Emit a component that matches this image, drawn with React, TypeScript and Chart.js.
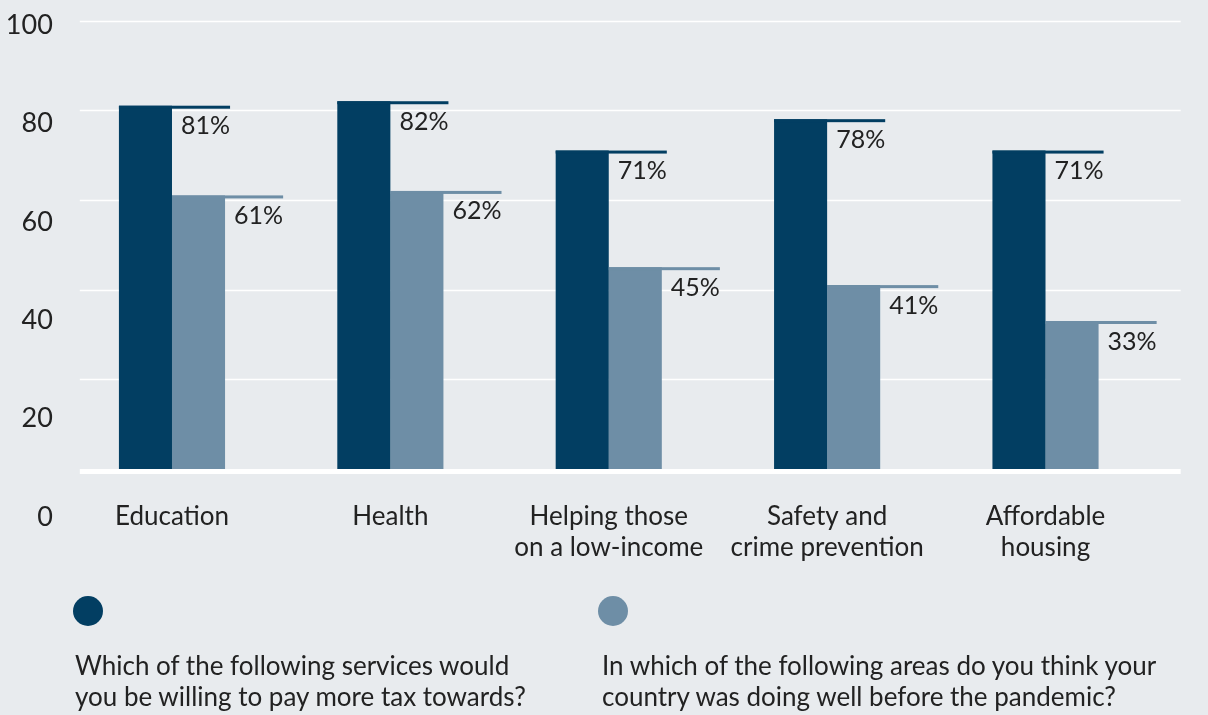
import React, { useEffect, useRef } from "react";
import { Chart, registerables } from "chart.js";

Chart.register(...registerables);

// ---- data ----
const categories: string[][] = [
  ["Education"],
  ["Health"],
  ["Helping those", "on a low-income"],
  ["Safety and", "crime prevention"],
  ["Affordable", "housing"],
];
const payMoreTax: number[] = [81, 82, 71, 78, 71];
const doingWell: number[] = [61, 62, 45, 41, 33];
const seriesLegendLines: string[][] = [
  ["Which of the following services would", "you be willing to pay more tax towards?"],
  ["In which of the following areas do you think your", "country was doing well before the pandemic?"],
];
const seriesColors: string[] = ["#023e62", "#6e8ea6"];
const yTickLabels: number[] = [0, 20, 40, 60, 80, 100];
const gridValues: number[] = [20, 40, 60, 80, 100];

const FONT = "Lato, 'Open Sans', sans-serif";
const TEXT = "#222222";
const BG = "#e8ebee";

const decorPlugin = {
  id: "decor",
  beforeDatasetsDraw(chart: any) {
    const { ctx, chartArea } = chart;
    const y = chart.scales.y;
    const x0 = chartArea.left + 17;
    const x1 = chartArea.right + 26;
    ctx.save();
    ctx.strokeStyle = "#ffffff";
    ctx.lineWidth = 1.5;
    gridValues.forEach((v) => {
      const py = Math.round(y.getPixelForValue(v)) + 0.5;
      ctx.beginPath();
      ctx.moveTo(x0, py);
      ctx.lineTo(x1, py);
      ctx.stroke();
    });
    ctx.lineWidth = 5;
    const pb = y.getPixelForValue(0) + 2.5;
    ctx.beginPath();
    ctx.moveTo(x0, pb);
    ctx.lineTo(x1, pb);
    ctx.stroke();
    ctx.restore();
  },
  afterDatasetsDraw(chart: any) {
    const { ctx } = chart;
    ctx.save();
    chart.data.datasets.forEach((ds: any, di: number) => {
      const meta = chart.getDatasetMeta(di);
      meta.data.forEach((bar: any, i: number) => {
        const { x, y, width } = bar.getProps(["x", "y", "width"], true);
        const left = x - width / 2;
        const right = x + width / 2 + width + 5;
        ctx.fillStyle = seriesColors[di];
        ctx.fillRect(left, y, right - left, 3);
        ctx.fillStyle = TEXT;
        ctx.font = `25px ${FONT}`;
        ctx.textAlign = "right";
        ctx.textBaseline = "top";
        ctx.fillText(`${ds.data[i]}%`, right, y + 8);
      });
    });
    ctx.restore();
  },
};

const noPad = (s: any) => {
  s.paddingTop = 0;
  s.paddingBottom = 0;
  s.paddingLeft = 0;
  s.paddingRight = 0;
};

export default function App() {
  const ref = useRef<HTMLCanvasElement | null>(null);

  useEffect(() => {
    if (!ref.current) return;
    const chart = new Chart(ref.current, {
      type: "bar",
      data: {
        labels: categories,
        datasets: [
          {
            label: seriesLegendLines[0].join(" "),
            data: payMoreTax,
            backgroundColor: seriesColors[0],
            borderWidth: 0,
            yAxisID: "y",
          },
          {
            label: seriesLegendLines[1].join(" "),
            data: doingWell,
            backgroundColor: seriesColors[1],
            borderWidth: 0,
            yAxisID: "y",
          },
        ],
      },
      options: {
        responsive: false,
        animation: false,
        devicePixelRatio: 1,
        categoryPercentage: 0.486,
        barPercentage: 1,
        layout: { padding: { left: 0, right: 53.3, top: 20.5, bottom: 146 } },
        plugins: {
          legend: { display: false },
          tooltip: { enabled: false },
        },
        scales: {
          x: {
            grid: { display: false, drawTicks: false },
            border: { display: false },
            ticks: {
              color: TEXT,
              font: { family: FONT, size: 26, lineHeight: 1.2 },
              padding: 32,
              maxRotation: 0,
              autoSkip: false,
            },
            afterFit: (s: any) => {
              s.height = 100;
              noPad(s);
            },
          },
          y: {
            display: false,
            min: 0,
            max: 100,
          },
          y1: {
            position: "left",
            min: 9.756,
            max: 100.915,
            grid: { display: false, drawTicks: false },
            border: { display: false },
            ticks: {
              color: TEXT,
              font: { family: FONT, size: 27 },
              padding: 10,
            },
            afterBuildTicks: (s: any) => {
              s.ticks = yTickLabels.map((v) => ({ value: v }));
            },
            afterFit: (s: any) => {
              s.width = 62.8;
              noPad(s);
            },
          },
        },
      } as any,
      plugins: [decorPlugin],
    });
    return () => chart.destroy();
  }, []);

  return (
    <div
      style={{
        position: "fixed",
        left: 0,
        top: 0,
        width: 1208,
        height: 715,
        background: BG,
        overflow: "hidden",
      }}
    >
      <canvas ref={ref} width={1208} height={715} style={{ position: "absolute", left: 0, top: 0 }} />
      {seriesLegendLines.map((lines, i) => (
        <div
          key={i}
          style={{ position: "absolute", left: [73, 598][i], top: 596, fontFamily: FONT, color: TEXT }}
        >
          <div
            style={{
              width: 30,
              height: 30,
              borderRadius: "50%",
              background: seriesColors[i],
            }}
          />
          <div style={{ marginTop: 24, marginLeft: [2, 4][i], fontSize: 26, lineHeight: "31px", whiteSpace: "nowrap" }}>
            {lines.map((l, j) => (
              <div key={j}>{l}</div>
            ))}
          </div>
        </div>
      ))}
    </div>
  );
}
